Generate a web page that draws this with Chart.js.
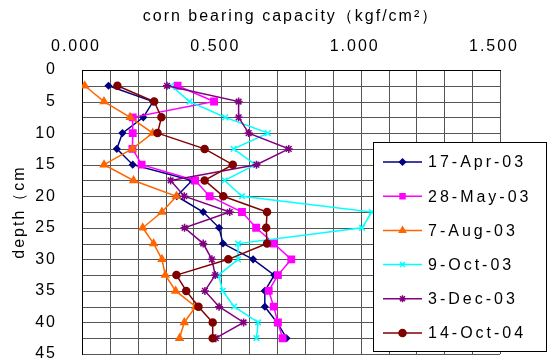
<!DOCTYPE html>
<html>
<head>
<meta charset="utf-8">
<script src="https://cdn.jsdelivr.net/npm/chart.js@4.4.1/dist/chart.umd.min.js"></script>
<style>
  body { margin: 0; background: #fff; }
</style>
</head>
<body>
<canvas id="grafico" width="553" height="363"></canvas>
<script>
// profundidad (cm) de cada lectura
const profundidad = [2.5, 5, 7.5, 10, 12.5, 15, 17.5, 20, 22.5, 25, 27.5, 30, 32.5, 35, 37.5, 40, 42.5]

const fechas = ['17-Apr-03', '28-May-03', '7-Aug-03', '9-Oct-03', '3-Dec-03', '14-Oct-04']

// capacidad de soporte (kgf/cm2) por fecha
const abr03 = [0.095, 0.255, 0.220, 0.145, 0.125, 0.182, 0.395, 0.340, 0.435, 0.492, 0.506, 0.614, 0.690, 0.656, 0.656, 0.700, 0.734]
const may03 = [0.343, 0.474, 0.182, 0.182, 0.181, 0.214, 0.406, 0.458, 0.574, 0.625, 0.688, 0.751, 0.703, 0.670, 0.688, 0.703, 0.720]
const ago03 = [0.010, 0.079, 0.173, 0.254, 0.180, 0.079, 0.185, 0.339, 0.287, 0.218, 0.257, 0.287, 0.299, 0.336, 0.408, 0.367, 0.350]
const oct03 = [0.320, 0.386, 0.514, 0.667, 0.544, 0.622, 0.512, 0.574, 1.040, 1.005, 0.560, 0.560, 0.490, 0.505, 0.546, 0.632, 0.626]
const dic03 = [0.305, 0.562, 0.562, 0.598, 0.742, 0.626, 0.318, 0.367, 0.530, 0.368, 0.435, 0.466, 0.478, 0.441, 0.492, 0.580, 0.480]
const oct04 = [0.127, 0.259, 0.285, 0.271, 0.440, 0.541, 0.440, 0.507, 0.664, 0.661, 0.664, 0.525, 0.339, 0.374, 0.418, 0.469, 0.469]

const series = [abr03, may03, ago03, oct03, dic03, oct04]
const colores = ['#000080', '#ff00ff', '#ff6600', '#00ffff', '#800080', '#800000']
const marcas = ['rectRot', 'rect', 'triangle', 'crossRot', 'star', 'circle']
const radios = [3, 4.5, 4, 4, 4, 3.5]

const datasets = series.map((valores, i) => ({
    label: fechas[i],
    data: valores.map((v, j) => ({ x: v, y: profundidad[j] })),
    showLine: true,
    borderColor: colores[i],
    backgroundColor: colores[i],
    borderWidth: 1.5,
    pointStyle: marcas[i],
    pointRadius: radios[i],
    pointBorderWidth: 1.5,
    order: series.length - i,
}))

// espaciado de letras para todo el texto del canvas
const espaciado = {
    id: 'espaciado',
    beforeUpdate(chart) { chart.ctx.letterSpacing = '2px' },
    beforeDraw(chart) { chart.ctx.letterSpacing = '2px' },
}

// rejilla: una linea por cada tick de los dos ejes
const rejilla = {
    id: 'rejilla',
    beforeDraw(chart) {
        const { ctx, chartArea: a, scales: { x, y } } = chart
        ctx.save()
        ctx.strokeStyle = '#555'
        ctx.lineWidth = 1
        ctx.beginPath()
        x.ticks.forEach((t) => {
            const px = Math.round(x.getPixelForValue(t.value)) + 0.5
            ctx.moveTo(px, a.top)
            ctx.lineTo(px, a.bottom)
        })
        y.ticks.forEach((t) => {
            const py = Math.round(y.getPixelForValue(t.value)) + 0.5
            ctx.moveTo(a.left, py)
            ctx.lineTo(a.right, py)
        })
        ctx.stroke()
        ctx.restore()
    }
}

// leyenda dibujada dentro del area del grafico
const leyenda = {
    id: 'leyenda',
    afterDraw(chart, args, opts) {
        const ctx = chart.ctx
        ctx.save()
        ctx.fillStyle = '#fff'
        ctx.fillRect(opts.x, opts.y, opts.w, opts.h)
        ctx.strokeStyle = '#000'
        ctx.lineWidth = 1
        ctx.strokeRect(opts.x + 0.5, opts.y + 0.5, opts.w, opts.h)
        ctx.font = '16px "Liberation Sans", sans-serif'
        ctx.letterSpacing = '3px'
        ctx.textBaseline = 'middle'
        ctx.textAlign = 'left'
        chart.data.datasets.forEach((ds, i) => {
            const y = opts.y + opts.primera + i * opts.paso
            const x0 = opts.x + 10
            const x1 = x0 + 39
            ctx.strokeStyle = ds.borderColor
            ctx.fillStyle = ds.backgroundColor
            ctx.lineWidth = 1.5
            ctx.beginPath()
            ctx.moveTo(x0, y)
            ctx.lineTo(x1, y)
            ctx.stroke()
            Chart.helpers.drawPoint(ctx, {
                pointStyle: ds.pointStyle,
                radius: Math.min(ds.pointRadius, 3.5),
                borderWidth: 1.5,
                rotation: 0,
            }, (x0 + x1) / 2, y)
            ctx.fillStyle = '#000'
            ctx.fillText(ds.label, x1 + 6, y + 1)
        })
        ctx.restore()
    }
}

Chart.defaults.font.family = '"Liberation Sans", sans-serif'
Chart.defaults.font.size = 16
Chart.defaults.color = '#000'

const grafico = new Chart(document.getElementById('grafico'), {
    type: 'scatter',
    data: { datasets },
    plugins: [espaciado, rejilla, leyenda],
    options: {
        responsive: false,
        animation: false,
        devicePixelRatio: 1,
        layout: { padding: { left: 0, top: 0, right: 53, bottom: 9 } },
        plugins: {
            legend: { display: false },
            tooltip: { enabled: false },
            leyenda: { x: 373, y: 142, w: 173, h: 209, primera: 20, paso: 34.2 },
        },
        scales: {
            x: {
                type: 'linear',
                position: 'top',
                min: 0,
                max: 1.5,
                afterFit: (s) => {
                    s.height = 70
                    s.paddingLeft = 0
                    s.paddingRight = 0
                },
                title: {
                    display: true,
                    text: 'corn bearing capacity（kgf/cm²）',
                    padding: { top: 7, bottom: 0 },
                },
                ticks: {
                    stepSize: 0.1,
                    autoSkip: false,
                    maxRotation: 0,
                    padding: 6,
                    labelOffset: -6,
                    callback: (v) => Math.abs(v * 2 - Math.round(v * 2)) < 1e-6 ? v.toFixed(3) : '',
                },
                grid: { display: false },
                border: { color: '#000' },
            },
            y: {
                type: 'linear',
                reverse: true,
                min: 0,
                max: 45,
                afterFit: (s) => {
                    s.width = 82
                    s.paddingTop = 0
                    s.paddingBottom = 0
                },
                title: {
                    display: true,
                    text: 'depth（cm',
                    padding: { top: 10, bottom: 0 },
                },
                ticks: {
                    stepSize: 2.5,
                    autoSkip: false,
                    padding: 17,
                    callback: (v) => v % 5 === 0 ? v : '',
                },
                grid: { display: false },
                border: { color: '#000' },
            },
        },
    },
})
</script>
</body>
</html>
